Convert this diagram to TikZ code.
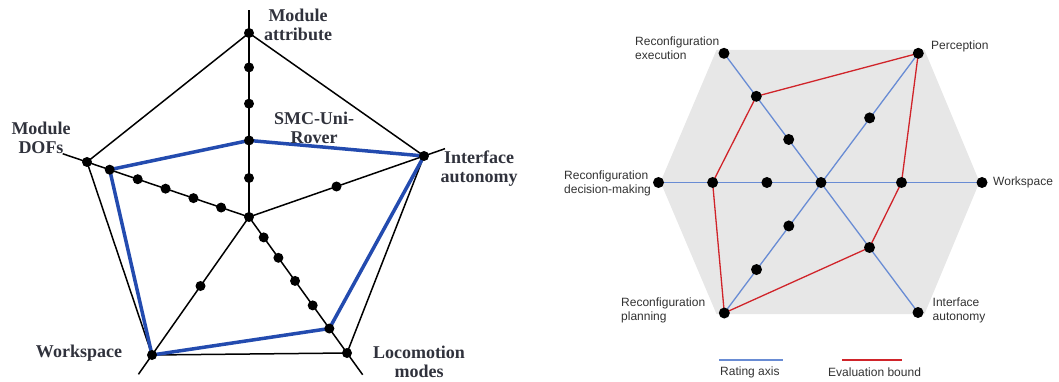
\documentclass[tikz,border=0pt]{standalone}
\usepackage{fontspec}
\setmainfont{Liberation Serif}
\setsansfont{Liberation Sans}
\usetikzlibrary{calc}

\definecolor{labelgray}{RGB}{48,50,60}
\definecolor{textgray}{RGB}{50,50,50}
\definecolor{roverblue}{RGB}{35,75,175}
\definecolor{axisblue}{RGB}{105,140,212}
\definecolor{boundred}{RGB}{208,36,42}
\definecolor{hexgray}{RGB}{231,231,231}

\tikzset{
  dot/.style={circle,fill=black,inner sep=0pt,minimum size=10pt},
  bigdot/.style={dot,minimum size=11pt},
  leftlabel/.style={font=\fontsize{18}{19}\selectfont\rmfamily\bfseries,text=labelgray,align=center,inner sep=0pt},
  rightlabel/.style={font=\fontsize{12}{14.4}\selectfont\sffamily,text=textgray,align=left,anchor=west,inner sep=0pt},
  frame/.style={black,line width=1.5pt},
}

\begin{document}
\begin{tikzpicture}[x=1pt,y=-1pt]
\useasboundingbox (0,0) rectangle (1059,382);

% pentagon chart
\coordinate (C) at (249,217);
\coordinate (MA) at (249,33);
\coordinate (IA) at (424,156);
\coordinate (LM) at (347,353);
\coordinate (WS) at (152,355);
\coordinate (DF) at (87,162);
\foreach \v/\f in {MA/1.125,IA/1.12,LM/1.16,WS/1.14,DF/1.15}
  \coordinate (\v-end) at ($(C)!\f!(\v)$);
\foreach \f [count=\i] in {0.212,0.416,0.616,0.813}
  \coordinate (MA\i) at ($(C)!\f!(MA)$);
\foreach \f [count=\i] in {0.172,0.343,0.515,0.687,0.86}
  \coordinate (DF\i) at ($(C)!\f!(DF)$);
\foreach \f [count=\i] in {0.15,0.30,0.47,0.65,0.82}
  \coordinate (LM\i) at ($(C)!\f!(LM)$);
\coordinate (IA1) at ($(C)!0.5!(IA)$);
\coordinate (WS1) at ($(C)!0.5!(WS)$);

\draw[frame] (MA) -- (IA) -- (LM) -- (WS) -- (DF) -- cycle;
\foreach \v in {MA,IA,LM,WS,DF}
  \draw[frame] (C) -- (\v-end);
\draw[roverblue,line width=3.5pt,line join=round] (MA2) -- (IA) -- (LM5) -- (WS) -- (DF5) -- cycle;
\foreach \p in {C,MA,IA,LM,WS,DF,MA1,MA2,MA3,MA4,DF1,DF2,DF3,DF4,DF5,LM1,LM2,LM3,LM4,LM5,IA1,WS1}
  \node[dot] (\p-dot) at (\p) {};

\node[leftlabel] (MAlabel) at (298,25) {Module\\attribute};
\node[leftlabel] (IAlabel) at (479,168.5) {Interface\\autonomy};
\node[leftlabel] (LMlabel) at (419,362) {Locomotion\\modes};
\node[leftlabel] (WSlabel) at (79,353) {Workspace};
\node[leftlabel] (DFlabel) at (41,137.5) {Module\\DOFs};
\node[leftlabel] (SMClabel) at (314,127.5) {SMC-Uni-\\Rover};

% hexagon chart
\fill[hexgray] (716.5,50) -- (924.5,50) -- (979.5,182) -- (924.5,314) -- (716.5,314) -- (660.5,182) -- cycle;
\coordinate (Q) at (821,182.5);
\coordinate (PE) at (918.3,53.3);
\coordinate (WO) at (982,182.5);
\coordinate (IN) at (918,312.5);
\coordinate (PL) at (724.3,313);
\coordinate (DM) at (658.5,182.5);
\coordinate (EX) at (724,53.3);
\foreach \v in {EX,PL,DM}
  \foreach \f [count=\i] in {0.333,0.667}
    \coordinate (\v\i) at ($(Q)!\f!(\v)$);
\foreach \v in {PE,WO,IN}
  \coordinate (\v1) at ($(Q)!0.5!(\v)$);

\draw[axisblue,line width=1.3pt] (EX) -- (IN);
\draw[axisblue,line width=1.3pt] (PE) -- (PL);
\draw[axisblue,line width=1.3pt] (DM) -- (WO);
\draw[boundred,line width=1.3pt,line join=round] (PE) -- (EX2) -- (DM2) -- (PL) -- (IN1) -- (WO1) -- cycle;
\foreach \p in {Q,PE,WO,IN,PL,DM,EX,EX1,EX2,PL1,PL2,DM1,DM2,PE1,WO1,IN1}
  \node[bigdot] (\p-dot) at (\p) {};

\node[rightlabel] (EXlabel) at (635,48) {Reconfiguration\\execution};
\node[rightlabel] (PElabel) at (931,46.5) {Perception};
\node[rightlabel] (WOlabel) at (993,182.5) {Workspace};
\node[rightlabel] (INlabel) at (932.5,310.5) {Interface\\autonomy};
\node[rightlabel] (PLlabel) at (621,310.5) {Reconfiguration\\planning};
\node[rightlabel] (DMlabel) at (564,183.5) {Reconfiguration\\decision-making};

% legend
\coordinate (axisA) at (719,360);
\coordinate (axisB) at (783,360);
\coordinate (boundA) at (842,360);
\coordinate (boundB) at (902,360);
\draw[axisblue,line width=1.3pt] (axisA) -- (axisB);
\draw[boundred,line width=1.3pt] (boundA) -- (boundB);
\node[rightlabel] (axislabel) at (720,372.5) {Rating axis};
\node[rightlabel] (boundlabel) at (828,372.5) {Evaluation bound};
\end{tikzpicture}
\end{document}
